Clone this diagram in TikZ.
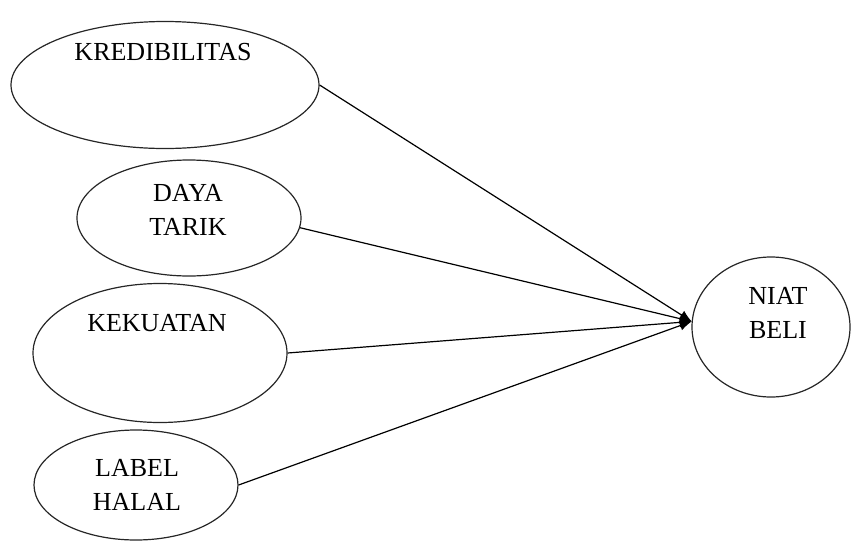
\documentclass[tikz,border=0pt]{standalone}
\usepackage{fontspec}
\setmainfont{Liberation Serif}
\usetikzlibrary{arrows.meta,shapes.geometric}

\begin{document}
\begin{tikzpicture}[x=0.5pt,y=-0.5pt,
  var/.style={ellipse,draw=black!85,line width=0.6pt,inner sep=0pt},
  lbl/.style={align=center,inner sep=0pt,font=\fontsize{13}{17}\selectfont},
  link/.style={line width=0.6pt,-{Latex[length=6pt,width=5pt]}}]
  \useasboundingbox (0,0) rectangle (851,541);
  % variabel bebas
  \node[var,minimum width=154pt,minimum height=63.5pt] (kred) at (165,85) {};
  \node[lbl] (kredtxt) at (163,52) {KREDIBILITAS};
  \node[var,minimum width=112pt,minimum height=58pt] (daya) at (189,218) {};
  \node[lbl] (dayatxt) at (188,210) {DAYA\\TARIK};
  \node[var,minimum width=127pt,minimum height=69.5pt] (kek) at (160,353) {};
  \node[lbl] (kektxt) at (157,323) {KEKUATAN};
  \node[var,minimum width=102pt,minimum height=55pt] (lab) at (136,485) {};
  \node[lbl] (labtxt) at (137,485) {LABEL\\HALAL};
  % variabel terikat
  \node[var,minimum width=79pt,minimum height=70pt] (niat) at (771,327) {};
  \node[lbl] (niattxt) at (778,313) {NIAT\\BELI};
  % panah
  \draw[link] (kred.east) -- (niat.176);
  \draw[link] (daya.-5) -- (niat.176);
  \draw[link] (kek.east) -- (niat.176);
  \draw[link] (lab.east) -- (niat.176);
\end{tikzpicture}
\end{document}
